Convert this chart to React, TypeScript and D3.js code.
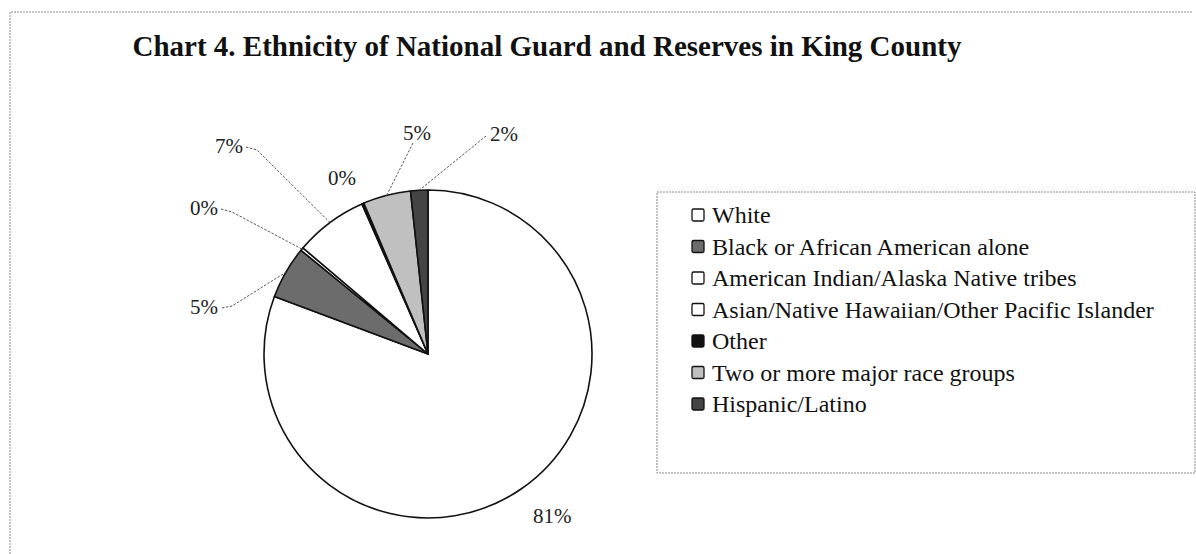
import React from "react";
import * as d3 from "d3";

const categories = [
  "White",
  "Black or African American alone",
  "American Indian/Alaska Native tribes",
  "Asian/Native Hawaiian/Other Pacific Islander",
  "Other",
  "Two or more major race groups",
  "Hispanic/Latino",
];
const values = [80.7, 5.2, 0.3, 7.2, 0.2, 4.7, 1.7];
const pctLabels = ["81%", "5%", "0%", "7%", "0%", "5%", "2%"];

const fills = ["#ffffff", "#6c6c6c", "#ffffff", "#ffffff", "#111111", "#c0c0c0", "#444444"];

// label layout: text position, anchor, optional leader start points
const labelLayout = [
  { x: 533, y: 523, anchor: "start", leader: null },
  { x: 218, y: 314, anchor: "end", leader: [[222, 308], [232, 306]] },
  { x: 218, y: 215, anchor: "end", leader: [[221, 209], [232, 212]] },
  { x: 243, y: 153, anchor: "end", leader: [[246, 147], [257, 150]] },
  { x: 328, y: 185, anchor: "start", leader: null },
  { x: 403, y: 140, anchor: "start", leader: [[413, 143]] },
  { x: 490, y: 141, anchor: "start", leader: [[486, 136]] },
];

const W = 1196;
const H = 554;
const cx = 428;
const cy = 354;
const R = 164;

const legend = { x: 657, y: 192, w: 538, h: 281, rowY0: 223, rowStep: 31.5 };

export default function App() {
  const pie = d3.pie<number>().sort(null).value((d) => d);
  const arcs = pie(values);
  const arcGen = d3.arc<d3.PieArcDatum<number>>().innerRadius(0).outerRadius(R);
  const line = d3.line();

  return (
    <svg
      width={W}
      height={H}
      style={{ position: "absolute", left: 0, top: 0, background: "#fff" }}
      fontFamily="'Liberation Serif', 'Times New Roman', serif"
    >
      <rect x={0} y={0} width={W} height={H} fill="#fff" />
      {/* outer frame */}
      <path d={`M10,${H} L10,12 L1192,12`} fill="none" stroke="#888" strokeWidth={1} strokeDasharray="2,1" />
      <text x={547} y={56} textAnchor="middle" fontSize={29} fontWeight="bold" fill="#111">
        Chart 4. Ethnicity of National Guard and Reserves in King County
      </text>

      <g transform={`translate(${cx},${cy})`}>
        {arcs.map((a, i) => (
          <path key={i} d={arcGen(a) || ""} fill={fills[i]} stroke="#111" strokeWidth={1.6} strokeLinejoin="round" />
        ))}
      </g>

      {arcs.map((a, i) => {
        const lay = labelLayout[i];
        const mid = (a.startAngle + a.endAngle) / 2;
        const ex = cx + R * Math.sin(mid);
        const ey = cy - R * Math.cos(mid);
        const pts: [number, number][] = lay.leader ? [...(lay.leader as [number, number][]), [ex, ey]] : [];
        return (
          <g key={"l" + i}>
            {lay.leader && (
              <path d={line(pts) || ""} fill="none" stroke="#444" strokeWidth={0.9} strokeDasharray="2.5,1.5" />
            )}
            <text x={lay.x} y={lay.y} textAnchor={lay.anchor as any} fontSize={21} fill="#222">
              {pctLabels[i]}
            </text>
          </g>
        );
      })}

      {/* legend */}
      <rect
        x={legend.x}
        y={legend.y}
        width={legend.w}
        height={legend.h}
        fill="none"
        stroke="#888"
        strokeWidth={1}
        strokeDasharray="2,1"
      />
      {categories.map((c, i) => {
        const y = legend.rowY0 + i * legend.rowStep;
        return (
          <g key={"g" + i}>
            <rect x={692} y={y - 14} width={12} height={12} fill={fills[i]} stroke="#111" strokeWidth={1.3} rx={1.5} />
            <text x={712} y={y} fontSize={24} fill="#111">
              {c}
            </text>
          </g>
        );
      })}
    </svg>
  );
}
